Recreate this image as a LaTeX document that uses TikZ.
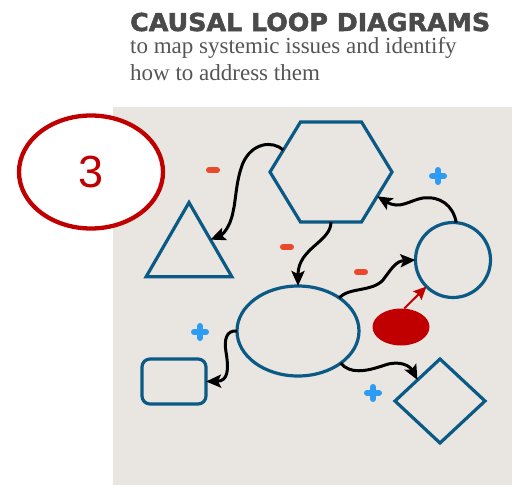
\documentclass[tikz,border=0pt]{standalone}
\usepackage{fontspec}
\usepackage{graphicx}
\setmainfont{Liberation Serif}
\newfontfamily\titlefont{DejaVu Sans}[BoldFeatures={FakeBold=2}]
\newfontfamily\digitfont{Liberation Sans}
\usetikzlibrary{shapes.geometric,arrows.meta}

\definecolor{shapeblue}{HTML}{0A5A85}
\definecolor{loopred}{HTML}{C00000}
\definecolor{minusred}{HTML}{EA4A2B}
\definecolor{plusblue}{HTML}{2E9CF2}
\definecolor{canvas}{HTML}{E9E6E2}
\definecolor{inkgray}{HTML}{4A4A4A}
\definecolor{subgray}{HTML}{555555}

\tikzset{
  outline/.style={draw=shapeblue, line width=3.2pt, inner sep=0pt, outer sep=0pt},
  link/.style={draw=black, line width=3pt, -{Stealth[length=15pt,width=13pt,inset=3pt]}},
  influence/.style={draw=loopred, line width=2pt, -{Stealth[length=13pt,width=12pt,inset=2pt]}},
  minus sign/.pic={\draw[minusred, line width=6pt, line cap=round] (-4,0) -- (4,0);},
  plus sign/.pic={\draw[plusblue, line width=6pt, line cap=round] (-6,0) -- (6,0) (0,-6) -- (0,6);},
}

\begin{document}
\begin{tikzpicture}[x=1pt,y=-1pt]
\useasboundingbox (0,0) rectangle (512,485);
% canvas behind the loop
\fill[canvas] (113,107) rectangle (512,485);

% heading
\node[anchor=base west, inner sep=0pt, text=inkgray] (title) at (130,31)
  {\resizebox{360pt}{18.3pt}{\titlefont\bfseries CAUSAL LOOP DIAGRAMS}};
\node[anchor=base west, inner sep=0pt, text=subgray, font=\fontsize{23}{27}\selectfont] (sub1) at (130,53)
  {to map systemic issues and identify};
\node[anchor=base west, inner sep=0pt, text=subgray, font=\fontsize{23}{27}\selectfont] (sub2) at (130,80)
  {how to address them};

% step badge
\node[draw=loopred, line width=4.3pt, fill=white, ellipse, minimum width=144pt, minimum height=113pt, inner sep=0pt] (badge) at (91,172)
  {\digitfont\fontsize{45}{45}\selectfont\color{loopred}3};

% elements of the loop
\begin{scope}[shift={(331,172)}, yscale=0.947, transform shape]
  \node[outline, regular polygon, regular polygon sides=6, minimum size=122pt] (hex) at (0,0) {};
\end{scope}
\node[outline, regular polygon, regular polygon sides=3, minimum size=99pt] (tri) at (189,252) {};
\node[outline, circle, minimum size=75pt] (circ) at (453,260) {};
\node[outline, ellipse, minimum width=122pt, minimum height=90pt] (hub) at (298,331) {};
\node[outline, rectangle, rounded corners=8pt, minimum width=64pt, minimum height=45pt] (box) at (174,381.5) {};
\node[outline, diamond, minimum width=90pt, minimum height=84pt] (diam) at (440,401) {};
\node[fill=loopred, ellipse, minimum width=57pt, minimum height=37pt, inner sep=0pt] (blob) at (401,327) {};

% causal links
\draw[link] (hex.154) .. controls (272,140) and (252,143) .. (243,163)
  .. controls (236,180) and (236,200) .. (233,212)
  .. controls (230,228) and (222,235) .. (tri.30);
\draw[link] (hex.south) .. controls (331,242) and (298,248) .. (hub.north);
\draw[link] (hub.39) .. controls (350,287) and (372,292) .. (383,280)
  .. controls (392,268) and (396,261) .. (circ.west);
\draw[link] (circ.85) .. controls (453,205) and (440,196) .. (423,198)
  .. controls (410,200) and (400,210) .. (hex.-29);
\draw[link] (hub.west) .. controls (226,330) and (224,340) .. (226,352)
  .. controls (229,370) and (228,381) .. (box.east);
\draw[link] (hub.-37) .. controls (350,374) and (365,372) .. (385,365)
  .. controls (400,360) and (410,366) .. (diam.north west);
\draw[influence] (blob.80) -- (circ.225);

% polarity marks
\pic at (213,170) {minus sign};
\pic at (287,247) {minus sign};
\pic at (361,272) {minus sign};
\pic at (438,176) {plus sign};
\pic at (200,332) {plus sign};
\pic at (373,393) {plus sign};
\end{tikzpicture}
\end{document}
